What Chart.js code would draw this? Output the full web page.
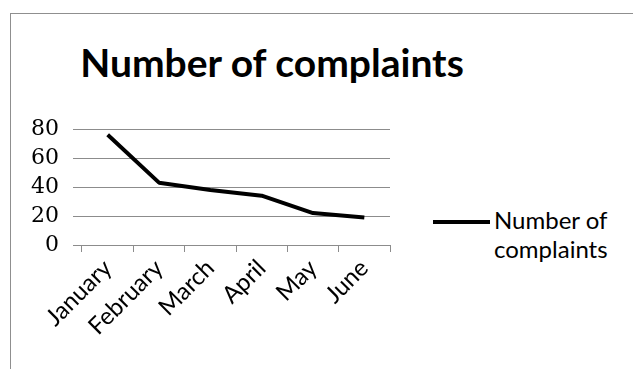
<!DOCTYPE html>
<html>
<head>
<meta charset="utf-8">
<script src="https://cdn.jsdelivr.net/npm/chart.js@4"></script>
<style>
  body { margin: 0; background: #fff; }
  #wrap { position: relative; width: 633px; height: 369px; overflow: hidden; background: #fff; }
  #frame { position: absolute; left: 10px; top: 13px; width: 640px; height: 380px; border: 1px solid #8f8f8f; }
  #chart { position: absolute; left: 0; top: 0; }
  #title { position: absolute; left: 0; width: 544px; top: 43px; text-align: center;
           font: bold 39px Lato; line-height: 1; color: #000; }
  #legend { position: absolute; left: 433px; top: 205px; }
  #legend .swatch { position: absolute; left: 0; top: 15px; width: 57px; height: 4px; background: #000; }
  #legend .text { position: absolute; left: 61px; top: 0; width: 140px;
                  font: 24px Lato; line-height: 29px; color: #000; }
</style>
</head>
<body>
<div id="wrap">
  <div id="frame"></div>
  <div id="title"></div>
  <div id="legend"><div class="swatch"></div><div class="text"></div></div>
  <canvas id="chart" width="633" height="369"></canvas>
</div>
<script>
const titleText = "Number of complaints";
const seriesName = "Number of complaints";
const months = ["January", "February", "March", "April", "May", "June"];
const complaints = [76, 43, 38, 34, 22, 19];
const yTicks = [0, 20, 40, 60, 80];

document.getElementById("title").textContent = titleText;
document.querySelector("#legend .text").textContent = seriesName;

const gridGray = "#8c8c8c";

const context = document.getElementById("chart").getContext("2d");
const complaintsChart = new Chart(context, {
    type: "line",
    data: {
        labels: months,
        datasets: [{
            label: seriesName,
            data: complaints,
            borderColor: "#000",
            backgroundColor: "#000",
            borderWidth: 4,
            borderJoinStyle: "round",
            borderCapStyle: "butt",
            pointRadius: 0,
            tension: 0
        }]
    },
    options: {
        responsive: false,
        animation: false,
        layout: {
            padding: { left: 20, right: 243, top: 129, bottom: 0 }
        },
        plugins: {
            legend: { display: false },
            title: { display: false },
            tooltip: { enabled: false }
        },
        scales: {
            x: {
                offset: true,
                afterFit: (scale) => { scale.height = 124; },
                grid: {
                    offset: true,
                    drawOnChartArea: false,
                    drawTicks: true,
                    tickLength: 7,
                    color: gridGray
                },
                border: { display: true, color: gridGray },
                ticks: {
                    color: "#000",
                    font: { family: "Lato", size: 24 },
                    minRotation: 45,
                    maxRotation: 45,
                    padding: 2
                }
            },
            y: {
                min: yTicks[0],
                max: yTicks[yTicks.length - 1],
                afterFit: (scale) => { scale.width = 62; },
                afterBuildTicks: (scale) => {
                    scale.ticks = yTicks.map((v) => ({ value: v }));
                },
                grid: {
                    color: gridGray,
                    drawTicks: true,
                    tickLength: 9
                },
                border: { display: false },
                ticks: {
                    autoSkip: false,
                    color: "#000",
                    font: { family: "DejaVu Serif", size: 22 },
                    padding: 14
                }
            }
        }
    }
});
</script>
</body>
</html>
